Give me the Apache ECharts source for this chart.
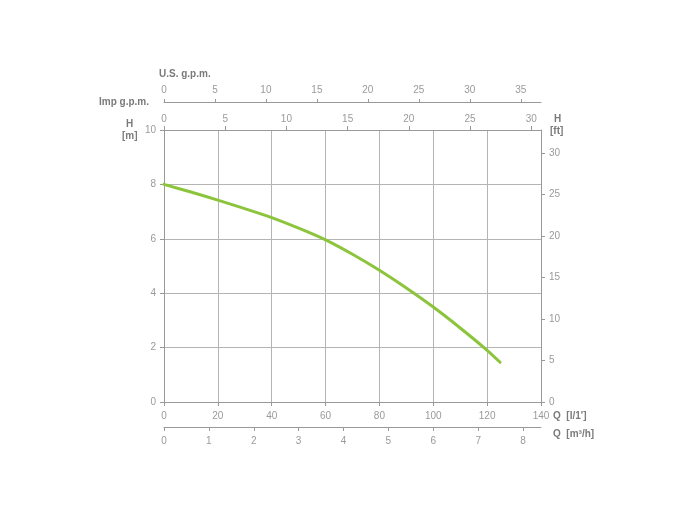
<!DOCTYPE html>
<html><head><meta charset="utf-8">
<script src="https://cdn.jsdelivr.net/npm/echarts@6/dist/echarts.min.js"></script>
<style>html,body{margin:0;padding:0;background:#fff}#c{width:700px;height:520px}</style>
</head><body><div id="c"></div>
<script>
// Data
const flowLpm = [0, 10, 20, 30, 40, 50, 60, 70, 80, 90, 100, 110, 120, 124.8];
const headM   = [8.0, 7.72, 7.42, 7.11, 6.78, 6.39, 5.96, 5.43, 4.84, 4.19, 3.49, 2.72, 1.9, 1.46];
const qLpmMax = 140;
const hMax = 10;

const LPM_PER_USGPM = 3.78541, LPM_PER_IMPGPM = 4.54609, LPM_PER_M3H = 1000/60, M_PER_FT = 0.3048;

const gray = '#999', tickCol = '#999', gridCol = '#b4b4b4', txt = '#9a9a9a', title = '#7a7a7a';
const font = 'Liberation Sans, Arial, sans-serif';

function axisBase(extra) {
  return Object.assign({
    type: 'value', min: 0,
    axisLine: { show: true, onZero: false, lineStyle: { color: gray, width: 1 } },
    axisTick: { show: true, length: 4, lineStyle: { color: tickCol } },
    axisLabel: { color: txt, fontSize: 10, fontFamily: font },
    splitLine: { show: false }
  }, extra);
}

const chart = echarts.init(document.getElementById('c'));
chart.setOption({
  animation: false,
  backgroundColor: '#fff',
  grid: { left: 164, right: 159, top: 130, bottom: 118, containLabel: false },
  xAxis: [
    axisBase({ position: 'bottom', max: qLpmMax, interval: 20,
      axisLabel: { color: txt, fontSize: 10, fontFamily: font, margin: 9 },
      splitLine: { show: true, lineStyle: { color: gridCol, width: 1 } } }),
    axisBase({ position: 'top', max: qLpmMax / LPM_PER_IMPGPM, interval: 5,
      axisLabel: { color: txt, fontSize: 10, fontFamily: font, margin: 6, showMaxLabel: false } }),
    axisBase({ position: 'top', offset: 28, max: qLpmMax / LPM_PER_USGPM, interval: 5,
      axisTick: { show: true, length: 3, lineStyle: { color: tickCol } },
      axisLabel: { color: txt, fontSize: 10, fontFamily: font, margin: 7, showMaxLabel: false } }),
    axisBase({ position: 'bottom', offset: 25, max: qLpmMax / LPM_PER_M3H, interval: 1,
      axisLabel: { color: txt, fontSize: 10, fontFamily: font, margin: 9, showMaxLabel: false } })
  ],
  yAxis: [
    axisBase({ position: 'left', max: hMax, interval: 2,
      axisLabel: { color: txt, fontSize: 10, fontFamily: font, margin: 8 },
      splitLine: { show: true, lineStyle: { color: gridCol, width: 1 } } }),
    axisBase({ position: 'right', max: hMax / M_PER_FT, interval: 5,
      axisLabel: { color: txt, fontSize: 10, fontFamily: font, margin: 8, showMaxLabel: false } })
  ],
  series: [{
    type: 'line', xAxisIndex: 0, yAxisIndex: 0,
    data: flowLpm.map((q, i) => [q, headM[i]]),
    smooth: 0.3, showSymbol: false,
    lineStyle: { color: '#8cc43c', width: 3, cap: 'round' }
  }],
  graphic: [
    { type: 'text', left: 159, top: 69, style: { text: 'U.S. g.p.m.', fill: title, font: 'bold 10px ' + font } },
    { type: 'text', left: 99, top: 97, style: { text: 'Imp g.p.m.', fill: title, font: 'bold 10px ' + font } },
    { type: 'text', left: 126, top: 119, style: { text: 'H', fill: title, font: 'bold 10px ' + font } },
    { type: 'text', left: 122, top: 131, style: { text: '[m]', fill: title, font: 'bold 10px ' + font } },
    { type: 'text', left: 554, top: 114, style: { text: 'H', fill: title, font: 'bold 10px ' + font } },
    { type: 'text', left: 550, top: 126, style: { text: '[ft]', fill: title, font: 'bold 10px ' + font } },
    { type: 'text', left: 553, top: 411, style: { text: "Q  [l/1']", fill: title, font: 'bold 10px ' + font } },
    { type: 'text', left: 553, top: 429, style: { text: 'Q  [m³/h]', fill: title, font: 'bold 10px ' + font } }
  ]
});
</script></body></html>
